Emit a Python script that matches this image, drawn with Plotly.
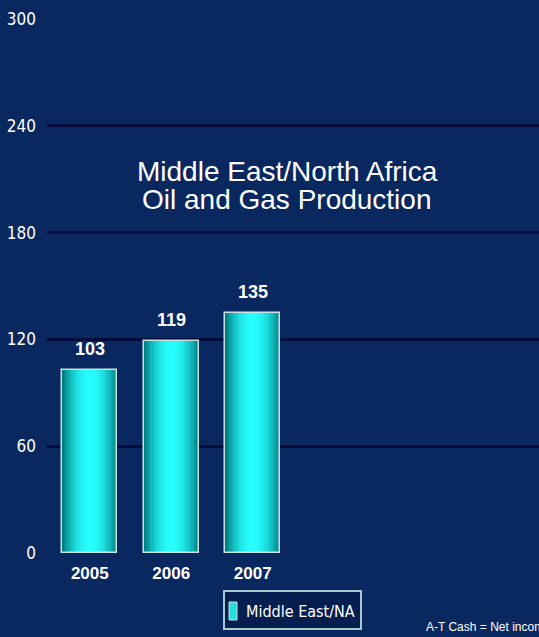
import plotly.graph_objects as go

years = ["2005", "2006", "2007"]
values = [103, 119, 135]
y_ticks = [0, 60, 120, 180, 240, 300]
series_name = "Middle East/NA"
title_lines = ["Middle East/North Africa", "Oil and Gas Production"]
footnote = "A-T Cash = Net income + depreciation"

BG = "rgb(10,40,96)"
GRID = "rgb(0,12,60)"
x_pos = list(range(len(years)))

PL, PR, PT, PB = 47, 0, 19, 84
PW, PH = 539 - PL - PR, 637 - PT - PB


def px_to_paper(px, py):
    return (px - PL) / PW, (637 - PB - py) / PH


fig = go.Figure()

# smooth cyan cylinder gradient made of stacked, narrowing bars
full_w = 0.675
edge = (0, 125, 128)
centre = (40, 255, 255)
n_layers = 22
for k in range(n_layers):
    f = 1 - k / n_layers
    t = 1 - f ** 2
    c = tuple(int(edge[j] + (centre[j] - edge[j]) * t) for j in range(3))
    fig.add_trace(go.Bar(
        x=x_pos, y=values, width=full_w * f,
        marker=dict(color="rgb(%d,%d,%d)" % c, line=dict(width=0)),
        showlegend=False, hoverinfo="skip",
    ))
# outline
fig.add_trace(go.Bar(
    x=x_pos, y=values, width=full_w, name=series_name,
    marker=dict(color="rgba(0,0,0,0)", line=dict(color="rgb(200,225,225)", width=1.5)),
    showlegend=False,
))

annotations = []
for xv, v in zip(x_pos, values):
    annotations.append(dict(
        x=xv, y=v, xref="x", yref="y", text=str(v), showarrow=False,
        yanchor="middle", yshift=21,
        font=dict(family="Liberation Sans, Arial", size=18, color="white", weight="bold"),
    ))

for line, py in zip(title_lines, [171, 199]):
    ax_, ay_ = px_to_paper(287, py)
    annotations.append(dict(
        text=line, xref="paper", yref="paper", x=ax_, y=ay_,
        xanchor="center", yanchor="middle", showarrow=False,
        font=dict(family="Liberation Sans, Arial", size=28, color="white"),
    ))

fx, fy = px_to_paper(424, 627)
annotations.append(dict(
    text=footnote, xref="paper", yref="paper", x=fx, y=fy,
    xanchor="left", yanchor="middle", showarrow=False,
    font=dict(family="Liberation Sans, Arial", size=12, color="white"),
))

COND = "DejaVu Sans Condensed, Liberation Sans Narrow, Arial Narrow, sans-serif"

# hand-drawn legend box (matches the reference's compact legend)
bx0, by0 = px_to_paper(224, 591)
bx1, by1 = px_to_paper(361, 629)
sx0, sy0 = px_to_paper(229, 602)
sx1, sy1 = px_to_paper(237, 620)
tx_, ty_ = px_to_paper(244, 611)
shapes = [
    dict(type="rect", xref="paper", yref="paper", x0=bx0, y0=by0, x1=bx1, y1=by1,
         fillcolor="rgb(5,30,80)", line=dict(color="rgb(170,200,210)", width=2), layer="above"),
    dict(type="rect", xref="paper", yref="paper", x0=sx0, y0=sy0, x1=sx1, y1=sy1,
         fillcolor="rgb(40,220,220)", line=dict(color="rgb(200,225,225)", width=1), layer="above"),
]
annotations.append(dict(
    text=series_name, xref="paper", yref="paper", x=tx_, y=ty_,
    xanchor="left", yanchor="middle", showarrow=False,
    font=dict(family=COND, size=16, color="white"),
))

fig.update_layout(
    width=539, height=637,
    paper_bgcolor=BG, plot_bgcolor=BG,
    margin=dict(l=PL, r=PR, t=PT, b=PB, autoexpand=False),
    barmode="overlay",
    bargap=0,
    showlegend=False,
    xaxis=dict(
        range=[-0.525, 5.512], tickmode="array", tickvals=x_pos, ticktext=years,
        showgrid=False, zeroline=False, showline=False, ticks="",
        tickfont=dict(family="Liberation Sans, Arial", size=17, color="white", weight="bold"),
        ticklabelstandoff=8,
        automargin=False,
    ),
    yaxis=dict(
        range=[0, 300], tickmode="array", tickvals=y_ticks,
        showgrid=True, gridcolor=GRID, gridwidth=2.5, zeroline=False,
        showline=False, ticks="",
        tickfont=dict(family=COND, size=17, color="white"),
        ticklabelstandoff=10,
        automargin=False,
    ),
    shapes=shapes,
    annotations=annotations,
)

fig.write_html("out.html", config={"displayModeBar": False},
               post_script="document.body.style.margin='0';")
